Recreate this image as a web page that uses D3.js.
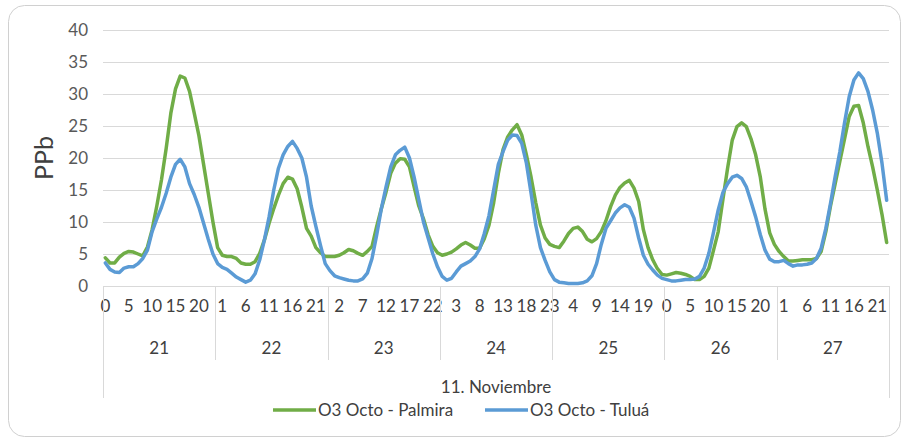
<!DOCTYPE html>
<html>
<head>
<meta charset="utf-8">
<script src="https://cdn.jsdelivr.net/npm/d3@7/dist/d3.min.js"></script>
<style>
    body { margin: 0; background: #fff; }
    text { font-family: Lato, 'Open Sans', sans-serif; fill: #595959; }
</style>
</head>
<body>
<div id="chart"></div>
<script>
// days of November and hours of each day
const days = ['21', '22', '23', '24', '25', '26', '27'];
const hours = [0, 1, 2, 3, 4, 5, 6, 7, 8, 9, 10, 11, 12, 13, 14, 15, 16, 17, 18, 19, 20, 21, 22, 23];
const monthLabel = '11. Noviembre';
const yTitle = 'PPb';
const yTicks = [0, 5, 10, 15, 20, 25, 30, 35, 40];
const seriesNames = ['O3 Octo - Palmira', 'O3 Octo - Tuluá'];

// hourly O3, one row of 24 values per day
const palmira = [
    4.4, 3.6, 3.6, 4.5, 5.1, 5.4, 5.3, 5.0, 4.7, 6.1, 8.8, 12.5, 16.6, 21.5, 27.0, 30.8, 32.8, 32.5, 30.4, 27.0, 23.5, 19.0, 14.5, 10.0,
    6.0, 4.8, 4.6, 4.6, 4.3, 3.6, 3.4, 3.4, 3.8, 5.1, 7.2, 9.8, 12.1, 14.2, 16.0, 17.0, 16.7, 15.2, 12.3, 9.0, 7.8, 6.0, 5.2, 4.6,
    4.6, 4.6, 4.8, 5.2, 5.7, 5.5, 5.1, 4.8, 5.4, 6.2, 9.3, 12.1, 14.7, 17.6, 19.2, 19.9, 19.8, 18.6, 15.5, 12.5, 10.5, 8.0, 6.2, 5.2,
    4.8, 5.0, 5.3, 5.8, 6.4, 6.8, 6.4, 5.9, 5.9, 7.4, 9.5, 13.0, 17.6, 21.3, 23.3, 24.4, 25.2, 23.6, 20.5, 17.0, 13.0, 9.5, 7.5, 6.5,
    6.2, 6.0, 7.0, 8.2, 9.0, 9.2, 8.5, 7.3, 6.9, 7.4, 8.5, 10.2, 12.4, 14.2, 15.4, 16.1, 16.5, 15.3, 13.2, 8.8, 6.0, 4.1, 2.7, 1.8,
    1.7, 1.9, 2.1, 2.0, 1.8, 1.5, 1.0, 1.0, 1.5, 2.8, 5.6, 8.5, 13.5, 18.4, 22.8, 24.9, 25.5, 24.9, 23.0, 20.5, 17.0, 12.0, 8.3, 6.5,
    5.4, 4.6, 3.9, 3.9, 4.0, 4.1, 4.1, 4.1, 4.3, 5.4, 8.5, 12.5, 16.0, 19.5, 23.0, 26.5, 28.1, 28.2, 25.5, 21.8, 18.6, 15.0, 11.2, 6.8
];
const tulua = [
    3.6, 2.6, 2.2, 2.1, 2.8, 3.0, 3.0, 3.5, 4.3, 5.6, 8.5, 10.5, 12.3, 14.5, 17.0, 19.0, 19.8, 18.6, 16.0, 14.3, 12.3, 9.8, 7.3, 5.0,
    3.5, 2.9, 2.6, 2.0, 1.4, 1.0, 0.6, 0.9, 1.9, 4.1, 7.2, 10.8, 15.0, 18.4, 20.5, 21.8, 22.6, 21.5, 20.0, 17.0, 12.5, 9.3, 6.3, 3.5,
    2.4, 1.6, 1.3, 1.1, 0.9, 0.8, 0.8, 1.1, 2.0, 4.3, 8.0, 12.1, 15.5, 18.6, 20.5, 21.2, 21.7, 20.0, 17.0, 13.5, 10.0, 7.5, 5.0, 3.0,
    1.5, 0.9, 1.2, 2.2, 3.1, 3.5, 3.9, 4.6, 5.8, 8.2, 11.0, 15.0, 19.0, 21.0, 22.8, 23.6, 23.5, 22.3, 19.2, 14.5, 9.5, 6.0, 4.0, 2.2,
    1.0, 0.6, 0.5, 0.4, 0.4, 0.4, 0.5, 0.8, 1.6, 3.5, 6.5, 9.0, 10.2, 11.4, 12.2, 12.7, 12.3, 10.6, 7.5, 4.8, 3.4, 2.5, 1.7, 1.2,
    1.0, 0.8, 0.8, 0.9, 1.0, 1.0, 1.1, 1.5, 2.8, 5.1, 8.4, 11.9, 14.6, 16.0, 17.0, 17.3, 16.8, 15.5, 13.2, 10.8, 8.0, 5.6, 4.2, 3.8,
    3.8, 4.0, 3.5, 3.1, 3.3, 3.3, 3.4, 3.6, 4.3, 5.9, 9.0, 12.9, 17.1, 21.0, 25.5, 29.6, 32.2, 33.3, 32.4, 30.4, 27.5, 23.9, 19.2, 13.4
];

const colors = ['#70ad47', '#5b9bd5'];
const width = 902;
const height = 439;
const margin = {top: 30, right: 13, bottom: 153, left: 103};
const chartWidth = width - margin.left - margin.right;
const chartHeight = height - margin.top - margin.bottom;

// one category per hour, day-major
const categories = days.flatMap(d => hours.map(h => ({day: d, hour: h})));

const svg = d3.select('#chart')
  .append('svg')
    .attr('width', width)
    .attr('height', height);

// rounded chart frame
svg.append('rect')
    .attr('x', 8.5)
    .attr('y', 5.5)
    .attr('width', 892)
    .attr('height', 431)
    .attr('rx', 16)
    .attr('fill', '#fff')
    .attr('stroke', '#d0d0d0');

const g = svg.append('g')
    .attr('transform', `translate(${margin.left},${margin.top})`);

const xScale = d3.scaleBand()
    .domain(d3.range(categories.length))
    .range([0, chartWidth]);

const dayScale = d3.scaleBand()
    .domain(days)
    .range([0, chartWidth]);

const yScale = d3.scaleLinear()
    .domain([0, 40])
    .range([chartHeight, 0]);

// y axis with gridlines
const yAxis = d3.axisLeft(yScale)
    .tickValues(yTicks)
    .tickSize(-chartWidth)
    .tickPadding(15);

g.append('g')
    .call(yAxis)
    .call(s => s.select('.domain').remove())
    .call(s => s.selectAll('.tick line').attr('stroke', '#d9d9d9'))
    .call(s => s.selectAll('.tick text')
        .style('font-size', '17px')
        .style('fill', '#595959'));

// hour labels, every 5th category
const xAxis = d3.axisBottom(xScale)
    .tickValues(xScale.domain().filter(i => i % 5 === 0))
    .tickFormat(i => categories[i].hour)
    .tickSize(0)
    .tickPadding(20);

g.append('g')
    .attr('transform', `translate(0,${chartHeight})`)
    .call(xAxis)
    .call(s => s.select('.domain').remove())
    .call(s => s.selectAll('.tick text')
        .attr('dy', '0')
        .attr('y', 26)
        .style('font-size', '17px')
        .style('fill', '#404040'));

// bottom line of plot and category separators
const sepColor = '#d9d9d9';
g.append('line')
    .attr('x1', 0).attr('x2', chartWidth)
    .attr('y1', chartHeight + 0.5).attr('y2', chartHeight + 0.5)
    .attr('stroke', sepColor);

g.selectAll('.day-sep')
    .data(days.slice(1))
  .enter()
  .append('line')
    .attr('class', 'day-sep')
    .attr('x1', d => Math.round(dayScale(d)) + 0.5)
    .attr('x2', d => Math.round(dayScale(d)) + 0.5)
    .attr('y1', chartHeight)
    .attr('y2', chartHeight + 74)
    .attr('stroke', sepColor);

g.selectAll('.edge-sep')
    .data([0, chartWidth])
  .enter()
  .append('line')
    .attr('x1', d => Math.round(d) + 0.5)
    .attr('x2', d => Math.round(d) + 0.5)
    .attr('y1', chartHeight)
    .attr('y2', chartHeight + 112)
    .attr('stroke', sepColor);

g.selectAll('.day-label')
    .data(days)
  .enter()
  .append('text')
    .attr('class', 'day-label')
    .attr('x', d => dayScale(d) + dayScale.bandwidth() / 2)
    .attr('y', chartHeight + 68)
    .attr('text-anchor', 'middle')
    .style('font-size', '17px')
    .style('fill', '#404040')
    .text(d => d);

g.append('text')
    .attr('x', chartWidth / 2)
    .attr('y', chartHeight + 107)
    .attr('text-anchor', 'middle')
    .style('font-size', '17px')
    .style('fill', '#404040')
    .text(monthLabel);

// y title
svg.append('text')
    .attr('transform', `translate(53,${margin.top + chartHeight / 2}) rotate(-90)`)
    .attr('text-anchor', 'middle')
    .style('font-size', '25px')
    .style('fill', '#404040')
    .text(yTitle);

// lines
const line = d3.line()
    .x((d, i) => xScale(i) + xScale.bandwidth() / 2)
    .y(d => yScale(d));

[palmira, tulua].forEach((values, k) => {
    g.append('path')
        .datum(values)
        .attr('fill', 'none')
        .attr('stroke', colors[k])
        .attr('stroke-width', 3.5)
        .attr('stroke-linejoin', 'round')
        .attr('stroke-linecap', 'round')
        .attr('d', line);
});

// legend
const legendX = [273, 485];
const legend = svg.selectAll('.legend')
    .data(seriesNames)
  .enter()
  .append('g')
    .attr('class', 'legend')
    .attr('transform', (d, i) => `translate(${legendX[i]},410)`);

legend.append('line')
    .attr('x1', 0).attr('x2', 43)
    .attr('stroke', (d, i) => colors[i])
    .attr('stroke-width', 3.5);

legend.append('text')
    .attr('x', 45)
    .attr('dy', '0.35em')
    .style('font-size', '17px')
    .style('fill', '#404040')
    .text(d => d);
</script>
</body>
</html>
